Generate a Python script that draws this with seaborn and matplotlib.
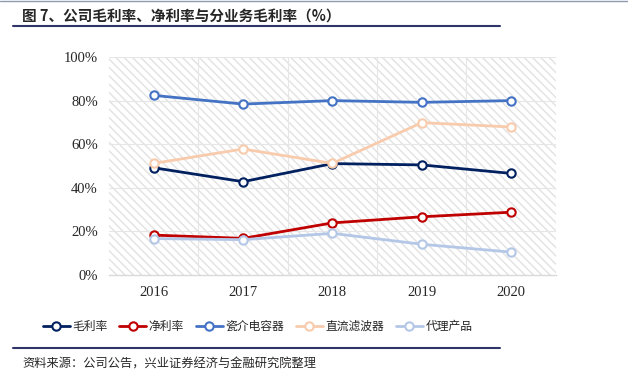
import numpy as np
import pandas as pd
import matplotlib
matplotlib.use("Agg")
import matplotlib.pyplot as plt
import seaborn as sns
from matplotlib.patches import Rectangle
from matplotlib.lines import Line2D

# Data
YEARS = ["2016", "2017", "2018", "2019", "2020"]
SERIES = ["毛利率", "净利率", "瓷介电容器", "直流滤波器", "代理产品"]
GROSS_MARGIN = [49.2, 42.8, 51.1, 50.5, 46.6]
NET_MARGIN = [18.3, 16.8, 23.9, 26.7, 28.8]
CERAMIC_CAP = [82.4, 78.4, 80.0, 79.2, 80.0]
DC_FILTER = [51.2, 57.8, 51.2, 69.9, 67.9]
AGENCY = [16.7, 16.2, 19.1, 14.1, 10.5]
COLORS = ["#002060", "#C00000", "#4472C4", "#F8CBAD", "#B4C7E7"]

sns.set_style("white")
plt.rcParams['font.family'] = ['Liberation Serif', 'Noto Sans CJK SC']
plt.rcParams['hatch.linewidth'] = 1.0

values = [GROSS_MARGIN, NET_MARGIN, CERAMIC_CAP, DC_FILTER, AGENCY]
df = pd.DataFrame({
    'x': np.tile(np.arange(len(YEARS)), len(SERIES)),
    'value': np.concatenate(values),
    'series': np.repeat(SERIES, len(YEARS)),
})

fig = plt.figure(figsize=(6.28, 3.86), dpi=100)
ax = fig.add_axes([0.1736, 0.2876, 0.885 - 0.1736, 0.8523 - 0.2876])

# hatched background
ax.add_patch(Rectangle((0, 0), 1, 1, transform=ax.transAxes, fill=False,
                       hatch='\\\\\\\\', edgecolor='#E2E2E2', lw=0, zorder=0))

for name, col in zip(SERIES, COLORS):
    sub = df[df['series'] == name]
    sns.lineplot(data=sub, x='x', y='value', ax=ax, color=col, lw=2.0,
                 marker='o', markersize=6, markerfacecolor='white',
                 markeredgecolor=col, markeredgewidth=1.5, zorder=3)

ax.set_xlim(-0.5, len(YEARS) - 0.5)
ax.set_ylim(0, 100)
ax.set_xticks(range(len(YEARS)))
ax.set_xticklabels(YEARS)
ax.set_yticks(range(0, 101, 20))
ax.set_yticklabels([f"{v}%" for v in range(0, 101, 20)])
ax.tick_params(axis='both', labelsize=10.5, length=0, pad=8)
ax.set_xlabel("")
ax.set_ylabel("")

# grid: horizontal at 20%, vertical at category boundaries
for yv in range(20, 101, 20):
    ax.axhline(yv, color='#E6E6E6', lw=0.8, zorder=1)
for xv in np.arange(0.5, len(YEARS) - 0.5, 1):
    ax.axvline(xv, color='#E6E6E6', lw=0.8, zorder=1)

for s in ['top', 'left', 'right']:
    ax.spines[s].set_visible(False)
ax.spines['bottom'].set_color('#D9D9D9')
ax.spines['bottom'].set_linewidth(1.0)

# legend
handles = [Line2D([0], [0], color=c, lw=2.0, marker='o', markersize=6,
                  markerfacecolor='white', markeredgecolor=c, markeredgewidth=1.5)
           for c in COLORS]
fig.legend(handles, SERIES, loc='center', bbox_to_anchor=(0.41, 0.155), ncol=5,
           frameon=False, handlelength=2.3, handletextpad=0.2, columnspacing=1.0,
           prop={'family': 'Noto Sans CJK SC', 'size': 8.5})

# title, rules, source
fig.text(0.035, 0.958, "图 7、公司毛利率、净利率与分业务毛利率（%）",
         fontsize=10.5, fontweight='bold', family='Noto Sans CJK SC',
         va='center', ha='left')
fig.add_artist(Line2D([0, 1], [0.998, 0.998], color='#8E9AAE', lw=1.0))
fig.add_artist(Line2D([0.0207, 0.796], [0.9326, 0.9326], color='#2F3569', lw=1.5))
fig.add_artist(Line2D([0.0207, 0.796], [0.099, 0.099], color='#2F3569', lw=1.5))
fig.text(0.035, 0.058, "资料来源：公司公告，兴业证券经济与金融研究院整理",
         fontsize=8.8, family='Noto Sans CJK SC', va='center', ha='left')

fig.savefig("out.png", dpi=100)
